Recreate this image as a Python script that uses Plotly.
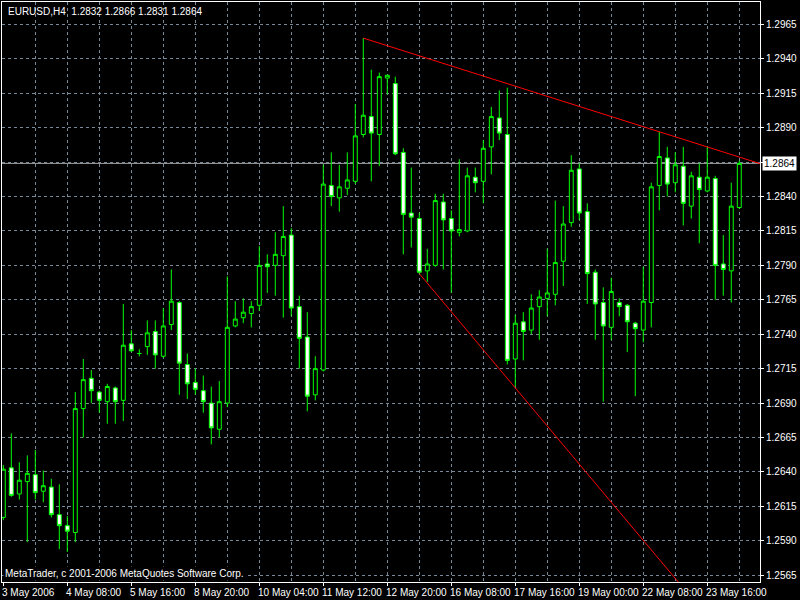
import plotly.graph_objects as go

# ---- data (EURUSD H4) ----
opens = [1.2607, 1.2643, 1.2624, 1.2633, 1.2638, 1.2626, 1.2629, 1.2609, 1.2601, 1.2596,
         1.2686, 1.2708, 1.2698, 1.2691, 1.2701, 1.2692, 1.2733, 1.2726, 1.2731, 1.2742,
         1.2724, 1.2747, 1.2763, 1.2718, 1.2705, 1.2699, 1.2690, 1.2671, 1.2690, 1.2746,
         1.2752, 1.2755, 1.2761, 1.2791, 1.2790, 1.2797, 1.2812, 1.2760, 1.2738, 1.2696,
         1.2714, 1.2848, 1.2839, 1.2846, 1.2851, 1.2885, 1.2898, 1.2885, 1.2926, 1.2922,
         1.2872, 1.2828, 1.2824, 1.2786, 1.2790, 1.2836, 1.2824, 1.2814, 1.2815, 1.2854,
         1.2851, 1.2876, 1.2897, 1.2885, 1.2722, 1.2749, 1.2743, 1.2760, 1.2766, 1.2769,
         1.2793, 1.2821, 1.2860, 1.2829, 1.2785, 1.2763, 1.2745, 1.2763, 1.2761, 1.2748,
         1.2743, 1.2763, 1.2848, 1.2868, 1.2850, 1.2862, 1.2833, 1.2854, 1.2844, 1.2853,
         1.2791, 1.2786, 1.2832]
highs = [1.2645, 1.2668, 1.2647, 1.2652, 1.2656, 1.2641, 1.2635, 1.2631, 1.2608, 1.2698,
         1.2722, 1.2714, 1.2699, 1.2704, 1.2702, 1.2762, 1.2743, 1.2729, 1.2750, 1.2750,
         1.2759, 1.2787, 1.2764, 1.2726, 1.2715, 1.2710, 1.2702, 1.2706, 1.2782, 1.2764,
         1.2766, 1.2764, 1.2804, 1.2798, 1.2814, 1.2833, 1.2817, 1.2768, 1.2756, 1.2724,
         1.2863, 1.2872, 1.2863, 1.2872, 1.2907, 1.2955, 1.2932, 1.2930, 1.2928, 1.2927,
         1.2875, 1.2861, 1.2828, 1.2802, 1.2842, 1.2842, 1.2830, 1.2867, 1.2861, 1.2861,
         1.2881, 1.2905, 1.2917, 1.2919, 1.2754, 1.2756, 1.2769, 1.2772, 1.2802, 1.2837,
         1.2833, 1.2870, 1.2864, 1.2835, 1.2787, 1.2774, 1.2781, 1.2766, 1.2762, 1.2749,
         1.2789, 1.2850, 1.2887, 1.2876, 1.2872, 1.2876, 1.2858, 1.2864, 1.2876, 1.2855,
         1.2812, 1.2850, 1.2866]
lows = [1.2605, 1.2622, 1.2620, 1.2589, 1.2620, 1.2618, 1.2607, 1.2584, 1.2582, 1.2589,
        1.2665, 1.2690, 1.2683, 1.2675, 1.2675, 1.2677, 1.2727, 1.2724, 1.2725, 1.2715,
        1.2723, 1.2743, 1.2696, 1.2693, 1.2696, 1.2683, 1.2660, 1.2665, 1.2687, 1.2745,
        1.2748, 1.2745, 1.2757, 1.2770, 1.2768, 1.2752, 1.2753, 1.2715, 1.2684, 1.2692,
        1.2713, 1.2833, 1.2829, 1.2841, 1.2849, 1.2883, 1.2851, 1.2862, 1.2914, 1.2870,
        1.2798, 1.2803, 1.2784, 1.2778, 1.2789, 1.2787, 1.2770, 1.2811, 1.2814, 1.2843,
        1.2835, 1.2856, 1.2881, 1.2718, 1.2702, 1.2721, 1.2740, 1.2736, 1.2753, 1.2761,
        1.2775, 1.2818, 1.2823, 1.2762, 1.2736, 1.2691, 1.2736, 1.2753, 1.2727, 1.2695,
        1.2734, 1.2745, 1.2830, 1.2840, 1.2843, 1.2819, 1.2824, 1.2806, 1.2843, 1.2765,
        1.2768, 1.2763, 1.2831]
closes = [1.2642, 1.2623, 1.2634, 1.2639, 1.2625, 1.2630, 1.2609, 1.2601, 1.2597, 1.2686,
          1.2707, 1.2699, 1.2692, 1.2702, 1.2691, 1.2732, 1.2728, 1.2726, 1.2741, 1.2725,
          1.2746, 1.2764, 1.2719, 1.2704, 1.2700, 1.2691, 1.2672, 1.2691, 1.2745, 1.2751,
          1.2756, 1.2760, 1.2790, 1.2789, 1.2798, 1.2811, 1.2759, 1.2737, 1.2695, 1.2715,
          1.2849, 1.2840, 1.2847, 1.2852, 1.2884, 1.2899, 1.2886, 1.2927, 1.2928, 1.2871,
          1.2827, 1.2825, 1.2785, 1.2791, 1.2837, 1.2823, 1.2815, 1.2816, 1.2855, 1.2850,
          1.2875, 1.2898, 1.2886, 1.2721, 1.2748, 1.2742, 1.2759, 1.2767, 1.2770, 1.2792,
          1.2820, 1.2859, 1.2828, 1.2784, 1.2762, 1.2746, 1.2771, 1.2760, 1.2749, 1.2744,
          1.2764, 1.2847, 1.2869, 1.2849, 1.2863, 1.2835, 1.2855, 1.2845, 1.2854, 1.2790,
          1.2787, 1.2833, 1.2864]

time_labels = ["3 May 2006", "4 May 08:00", "5 May 16:00", "8 May 20:00", "10 May 04:00",
               "11 May 12:00", "12 May 20:00", "16 May 08:00", "17 May 16:00",
               "19 May 00:00", "22 May 08:00", "23 May 16:00"]
time_label_bars = [0, 8, 16, 24, 32, 40, 48, 56, 64, 72, 80, 88]
grid_bars = [4, 8, 12, 16, 20, 24, 28, 32, 36, 40, 44, 48, 52, 56, 60, 64, 68, 72, 76, 80, 84, 88, 92]

price_ticks = [1.2565, 1.2590, 1.2615, 1.2640, 1.2665, 1.2690, 1.2715, 1.2740, 1.2765,
               1.2790, 1.2815, 1.2840, 1.2865, 1.2890, 1.2915, 1.2940, 1.2965]
price_tick_labels = ["1.2565", "1.2590", "1.2615", "1.2640", "1.2665", "1.2690", "1.2715",
                     "1.2740", "1.2765", "1.2790", "1.2815", "1.2840", "1.2865", "1.2890",
                     "1.2915", "1.2940", "1.2965"]

# trend lines: anchor bars and prices
trend_up_bars = [45, 82]
trend_up_prices = [1.2955, 1.2887]
trend_dn_bars = [52, 64]
trend_dn_prices = [1.2784, 1.2701]

symbol = "EURUSD,H4"
copyright_text = "MetaTrader, c 2001-2006 MetaQuotes Software Corp."

x_range = [-0.1625, 94.59]
y_range = [1.25601, 1.29812]

bars = list(range(len(opens)))

GREEN = "#00ff00"
GRID = "#778899"
FONT = "Liberation Sans"


def ray(xs, ys, x_end):
    slope = (ys[1] - ys[0]) / (xs[1] - xs[0])
    return [xs[0], x_end], [ys[0], ys[0] + slope * (x_end - xs[0])]


fig = go.Figure()
fig.add_trace(go.Candlestick(
    x=bars, open=opens, high=highs, low=lows, close=closes,
    increasing=dict(line=dict(color=GREEN, width=1), fillcolor="black"),
    decreasing=dict(line=dict(color=GREEN, width=1), fillcolor="white"),
    hoverinfo="skip", showlegend=False,
))

ux, uy = ray(trend_up_bars, trend_up_prices, x_range[1])
dx, dy = ray(trend_dn_bars, trend_dn_prices, x_range[1])
fig.add_trace(go.Scatter(x=ux, y=uy, mode="lines", line=dict(color="red", width=1),
                         hoverinfo="skip", showlegend=False))
fig.add_trace(go.Scatter(x=dx, y=dy, mode="lines", line=dict(color="red", width=1),
                         hoverinfo="skip", showlegend=False))

last_close = closes[-1]
fig.add_shape(type="line", xref="paper", x0=0, x1=1, yref="y", y0=last_close, y1=last_close,
              line=dict(color="#a0a0a0", width=1), layer="below")

# price tick labels hidden where the current-price box sits
shown_tick_labels = [("" if abs(v - last_close) < 0.0004 else t)
                     for v, t in zip(price_ticks, price_tick_labels)]

ann = []
ann.append(dict(xref="paper", yref="paper", x=0, y=1, xanchor="left", yanchor="top",
                xshift=4, yshift=-2, showarrow=False,
                text=f"{symbol}  {opens[-1]:.4f} {highs[-1]:.4f} {lows[-1]:.4f} {closes[-1]:.4f}",
                font=dict(family=FONT, size=10, color="white")))
ann.append(dict(xref="paper", yref="paper", x=0, y=0, xanchor="left", yanchor="bottom",
                xshift=1, yshift=1, showarrow=False, text=copyright_text, bgcolor="black",
                font=dict(family=FONT, size=10, color="white")))
for b, t in zip(time_label_bars, time_labels):
    ann.append(dict(xref="x", yref="paper", x=b, y=0, xanchor="left", yanchor="top",
                    xshift=-3, yshift=-3, showarrow=False, text=t,
                    font=dict(family=FONT, size=10, color="white")))
ann.append(dict(xref="paper", yref="y", x=1, y=last_close, xanchor="left", yanchor="middle",
                xshift=2, showarrow=False, text=f"{last_close:.4f}", bgcolor="white",
                borderpad=1, font=dict(family=FONT, size=10, color="black")))

fig.update_layout(
    width=800, height=600,
    margin=dict(l=2, r=40, t=2, b=18, pad=0),
    paper_bgcolor="black", plot_bgcolor="black",
    showlegend=False,
    annotations=ann,
    xaxis=dict(
        range=x_range, rangeslider=dict(visible=False),
        showline=True, mirror=True, linecolor="white", linewidth=1,
        tickvals=time_label_bars, ticktext=[""] * len(time_label_bars),
        ticks="outside", ticklen=3, tickcolor="white",
        showgrid=False, zeroline=False,
        minor=dict(tickvals=grid_bars, showgrid=True, gridcolor=GRID, griddash="3px,3px",
                   gridwidth=1, ticks=""),
    ),
    yaxis=dict(
        range=y_range, side="right",
        showline=True, mirror=True, linecolor="white", linewidth=1,
        tickvals=price_ticks, ticktext=shown_tick_labels,
        ticks="outside", ticklen=3, tickcolor="white",
        tickfont=dict(family=FONT, size=10, color="white"),
        showgrid=True, gridcolor=GRID, griddash="3px,3px", gridwidth=1, zeroline=False,
        automargin=False,
    ),
)

fig.write_html("out.html", config={"displayModeBar": False},
               post_script="document.body.style.margin='0';document.body.style.overflow='hidden';")
